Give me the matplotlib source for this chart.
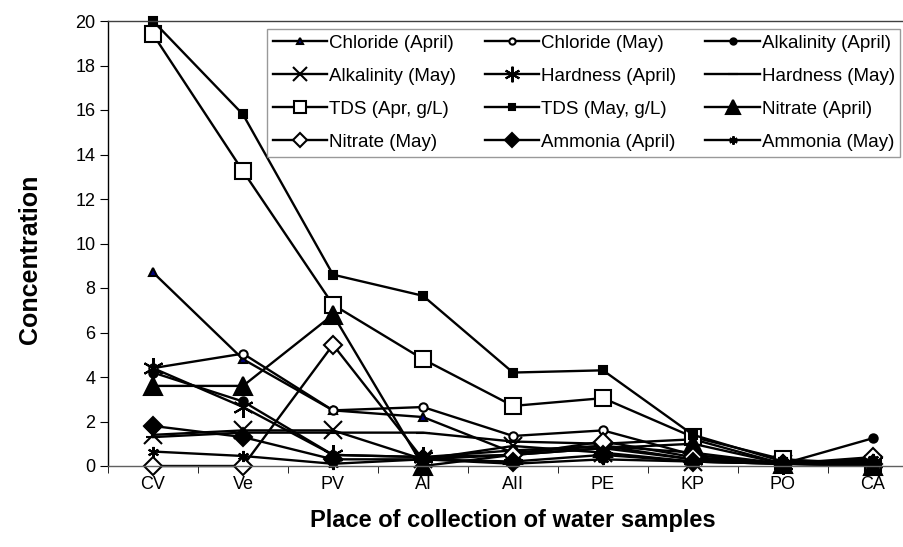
import numpy as np
import matplotlib.pyplot as plt

plt.rcParams['font.family'] = ['Liberation Sans', 'DejaVu Sans']

# Sampling places
places = ["CV", "Ve", "PV", "AI", "AII", "PE", "KP", "PO", "CA"]

# Concentrations (one value per place)
chloride_apr = [8.7, 4.8, 2.5, 2.2, 0.6, 0.9, 0.3, 0.1, 0.1]
chloride_may = [4.4, 5.05, 2.5, 2.65, 1.35, 1.6, 0.5, 0.1, 0.2]
alkalinity_apr = [4.2, 2.9, 0.5, 0.4, 0.7, 0.9, 0.6, 0.1, 1.25]
alkalinity_may = [1.4, 1.6, 1.6, 0.3, 0.9, 0.6, 0.2, 0.1, 0.0]
hardness_apr = [4.4, 2.65, 0.5, 0.4, 0.5, 0.8, 0.3, 0.1, 0.2]
hardness_may = [1.3, 1.5, 1.5, 1.5, 1.1, 1.0, 1.2, 0.1, 0.3]
tds_apr = [19.4, 13.25, 7.25, 4.8, 2.7, 3.05, 1.3, 0.3, 0.1]
tds_may = [20.0, 15.8, 8.6, 7.65, 4.2, 4.3, 1.4, 0.2, 0.2]
nitrate_apr = [3.6, 3.6, 6.8, 0.0, 0.5, 0.8, 1.0, 0.1, 0.0]
nitrate_may = [0.0, 0.0, 5.45, 0.3, 0.5, 1.1, 0.4, 0.1, 0.4]
ammonia_apr = [1.8, 1.3, 0.3, 0.3, 0.2, 0.5, 0.2, 0.1, 0.1]
ammonia_may = [0.65, 0.45, 0.1, 0.3, 0.1, 0.3, 0.2, 0.1, 0.3]

asterisk = (6, 2, 0)

# (label, values, marker, size, facecolor)
series = [
    ("Chloride (April)", chloride_apr, '^', 6, '#000080'),
    ("Chloride (May)", chloride_may, 'o', 6, 'white'),
    ("Alkalinity (April)", alkalinity_apr, 'o', 6, 'black'),
    ("Alkalinity (May)", alkalinity_may, 'x', 13, 'black'),
    ("Hardness (April)", hardness_apr, asterisk, 15, 'black'),
    ("Hardness (May)", hardness_may, '_', 10, 'black'),
    ("TDS (Apr, g/L)", tds_apr, 's', 11, 'white'),
    ("TDS (May, g/L)", tds_may, 's', 6, 'black'),
    ("Nitrate (April)", nitrate_apr, '^', 13, 'black'),
    ("Nitrate (May)", nitrate_may, 'D', 9, 'white'),
    ("Ammonia (April)", ammonia_apr, 'D', 9, 'black'),
    ("Ammonia (May)", ammonia_may, asterisk, 8, 'black'),
]

fig = plt.figure(figsize=(9.04, 5.47), dpi=100)
ax = fig.add_axes([108 / 904, 1 - 466 / 547, 810 / 904, 445 / 547])

x = np.arange(len(places))
handles = []
for label, vals, mk, ms, fc in series:
    h, = ax.plot(x, vals, color='black', lw=1.7, marker=mk, markersize=ms,
                 markerfacecolor=fc, markeredgecolor='black', markeredgewidth=1.5,
                 label=label, clip_on=False)
    handles.append(h)

ax.set_xlim(-0.5, len(places) - 0.5)
ax.set_ylim(0, 20)
ax.set_yticks(np.arange(0, 21, 2))
ax.set_xticks(x)
ax.set_xticklabels(places)
ax.set_xticks(np.arange(-0.5, len(places), 1), minor=True)
ax.tick_params(axis='x', which='major', length=0, pad=7, labelsize=13)
ax.tick_params(axis='x', which='minor', length=5, direction='out')
ax.tick_params(axis='y', length=6, direction='out', labelsize=13, pad=3)
for s in ax.spines.values():
    s.set_color('#404040')
    s.set_linewidth(1.0)
ax.spines['left'].set_color('black')
ax.spines['bottom'].set_color('#606060')

ax.set_ylabel("Concentration", fontsize=18, fontweight='bold')
ax.yaxis.set_label_coords(-66 / 810, (466 - 259) / 445)
ax.set_xlabel("Place of collection of water samples", fontsize=17,
              fontweight='bold', labelpad=12)

# legend filled row by row, 3 columns
order = [0, 3, 6, 9, 1, 4, 7, 10, 2, 5, 8, 11]
leg = fig.legend([handles[i] for i in order], [series[i][0] for i in order],
                 ncol=3, loc='upper left', bbox_to_anchor=(267 / 904, 1 - 29 / 547),
                 borderaxespad=0, fontsize=13.5, frameon=True, fancybox=False,
                 edgecolor='#808080', handlelength=2.9, handletextpad=0.1,
                 columnspacing=1.55, labelspacing=0.85, borderpad=0.3,
                 markerscale=0.75)
leg.get_frame().set_linewidth(1.0)

fig.savefig("out.png", dpi=100)
